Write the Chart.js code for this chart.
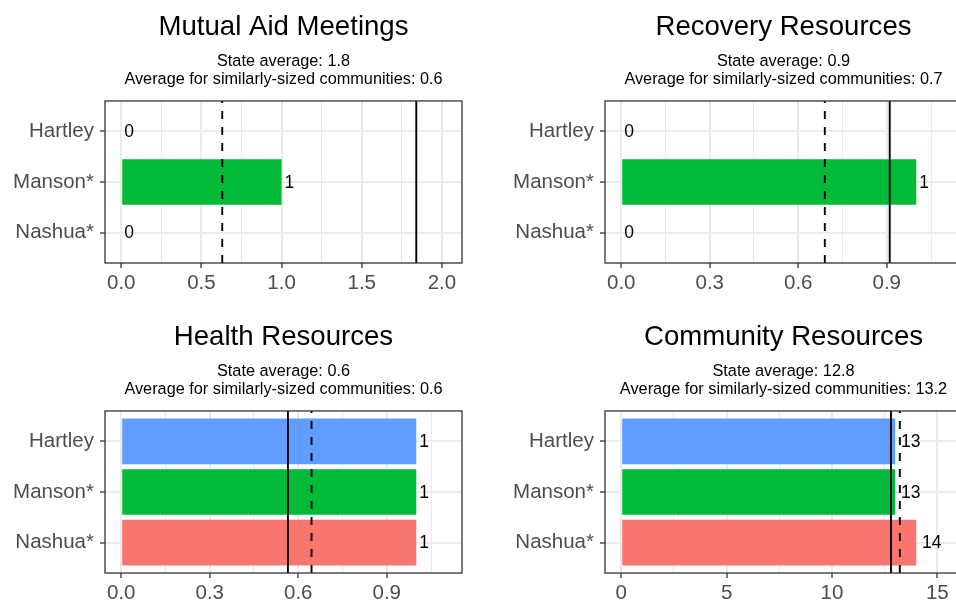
<!DOCTYPE html>
<html>
<head>
<meta charset="utf-8">
<script src="https://cdn.jsdelivr.net/npm/chart.js@4.4.1/dist/chart.umd.min.js"></script>
<style>
html, body { margin: 0; padding: 0; background: #ffffff; }
body { width: 956px; height: 604px; overflow: hidden; position: relative; }
.panel { position: absolute; width: 500px; height: 302px; }
.panel canvas { display: block; }
</style>
</head>
<body>
<div class="panel" style="left:0px;top:0px"><canvas id="c0" width="500" height="302"></canvas></div>
<div class="panel" style="left:500px;top:0px"><canvas id="c1" width="500" height="302"></canvas></div>
<div class="panel" style="left:0px;top:310px"><canvas id="c2" width="500" height="302"></canvas></div>
<div class="panel" style="left:500px;top:310px"><canvas id="c3" width="500" height="302"></canvas></div>
<script>
// ---- data ----
const communities = ['Hartley', 'Manson*', 'Nashua*'];
const barColors = ['#619CFF', '#00BA38', '#F8766D'];
const panelTitles = ['Mutual Aid Meetings', 'Recovery Resources', 'Health Resources', 'Community Resources'];

const mutualAidMeetings = [0, 1, 0];
const recoveryResources = [0, 1, 0];
const healthResources = [1, 1, 1];
const communityResources = [13, 13, 14];

const stateAverages = [1.84, 0.91, 0.565, 12.8];
const similarAverages = [0.63, 0.69, 0.645, 13.22];
const stateAverageLabels = ['1.8', '0.9', '0.6', '12.8'];
const similarAverageLabels = ['0.6', '0.7', '0.6', '13.2'];

const mutualTicks = [0, 0.5, 1, 1.5, 2];
const mutualTickLabels = ['0.0', '0.5', '1.0', '1.5', '2.0'];
const fractionTicks = [0, 0.3, 0.6, 0.9];
const fractionTickLabels = ['0.0', '0.3', '0.6', '0.9'];
const countTicks = [0, 5, 10, 15];
const countTickLabels = ['0', '5', '10', '15'];

// ---- styling ----
const FONT = "'Liberation Sans', Arial, sans-serif";
const GRID = '#EBEBEB';
const DARK = '#333333';

function makePanel(canvasId, idx, values, ticks, tickLabels) {
  const stateAvg = stateAverages[idx];
  const simAvg = similarAverages[idx];
  const top = 1.1 * Math.max(...values, stateAvg, simAvg);
  const xMin = -0.05 * top;
  const xMax = 1.05 * top;
  const step = ticks[1] - ticks[0];

  const panelPlugin = {
    id: 'panelExtras' + idx,
    afterDatasetsDraw(chart) {
      const ctx = chart.ctx;
      const area = chart.chartArea;
      const xs = chart.scales.x;
      // reference lines
      const drawV = (val, dashed) => {
        const px = xs.getPixelForValue(val);
        ctx.save();
        ctx.strokeStyle = '#000000';
        ctx.lineWidth = 1.9;
        ctx.setLineDash(dashed ? [8, 8] : []);
        ctx.beginPath();
        ctx.moveTo(px, area.bottom);
        ctx.lineTo(px, area.top);
        ctx.stroke();
        ctx.restore();
      };
      drawV(simAvg, true);
      drawV(stateAvg, false);
      // value labels
      const meta = chart.getDatasetMeta(0);
      ctx.save();
      ctx.font = '17.5px ' + FONT;
      ctx.fillStyle = '#000000';
      ctx.textBaseline = 'middle';
      ctx.textAlign = 'left';
      meta.data.forEach((bar, i) => {
        const txt = String(values[i]);
        const w = ctx.measureText(txt).width;
        const px = xs.getPixelForValue(values[i]);
        ctx.fillText(txt, px + 0.3 * w, bar.y + 1);
      });
      ctx.restore();
      // panel border
      ctx.save();
      ctx.strokeStyle = DARK;
      ctx.lineWidth = 1.3;
      ctx.strokeRect(area.left, area.top, area.right - area.left, area.bottom - area.top);
      ctx.restore();
    }
  };

  return new Chart(document.getElementById(canvasId), {
    type: 'bar',
    data: {
      datasets: [{
        data: values.map((v, i) => ({ x: v, y: i + 1 })),
        backgroundColor: barColors,
        borderWidth: 0,
        barPercentage: 0.9,
        categoryPercentage: 1.0
      }]
    },
    options: {
      indexAxis: 'y',
      responsive: false,
      animation: false,
      layout: { padding: { left: 0, right: 38, top: 0, bottom: 0 } },
      plugins: {
        legend: { display: false },
        tooltip: { enabled: false },
        title: {
          display: true,
          text: panelTitles[idx],
          color: '#000000',
          fullSize: false,
          font: { family: FONT, size: 27.6, weight: 'normal', lineHeight: 1 },
          padding: { top: 13.3, bottom: 10.3 }
        },
        subtitle: {
          display: true,
          text: ['State average: ' + stateAverageLabels[idx],
                 'Average for similarly-sized communities: ' + similarAverageLabels[idx]],
          color: '#000000',
          fullSize: false,
          font: { family: FONT, size: 16.3, weight: 'normal', lineHeight: 1.14 },
          padding: { top: 0.8, bottom: 11.8 }
        }
      },
      scales: {
        x: {
          type: 'linear',
          min: xMin,
          max: xMax,
          offset: false,
          afterBuildTicks(scale) {
            const list = [];
            ticks.forEach((t, i) => {
              list.push({ value: t, label: tickLabels[i], minor: false });
              const m = t + step / 2;
              if (m <= xMax) list.push({ value: m, label: '', minor: true });
            });
            scale.ticks = list;
          },
          afterFit(scale) { scale.height = 39; },
          ticks: {
            autoSkip: false,
            maxRotation: 0,
            padding: 3,
            color: '#4D4D4D',
            font: { family: FONT, size: 20.5 },
            callback: (value, index, tks) => tks[index].label
          },
          grid: {
            offset: false,
            color: GRID,
            lineWidth: (c) => (c.tick && c.tick.minor ? 1 : 2),
            tickLength: 5,
            tickColor: (c) => (c.tick && c.tick.minor ? 'rgba(0,0,0,0)' : DARK),
            tickWidth: 1.3
          },
          border: { display: false }
        },
        y: {
          type: 'linear',
          min: 0.4,
          max: 3.6,
          reverse: true,
          offset: false,
          afterBuildTicks(scale) {
            scale.ticks = communities.map((c, i) => ({ value: i + 1 }));
          },
          afterFit(scale) { scale.width = 105; },
          ticks: {
            autoSkip: false,
            padding: 6,
            color: '#4D4D4D',
            font: { family: FONT, size: 20.5 },
            callback: (value) => communities[Math.round(value) - 1]
          },
          grid: {
            offset: false,
            color: GRID,
            lineWidth: 2,
            tickLength: 5,
            tickColor: DARK,
            tickWidth: 1.3
          },
          border: { display: false }
        }
      }
    },
    plugins: [panelPlugin]
  });
}

makePanel('c0', 0, mutualAidMeetings, mutualTicks, mutualTickLabels);
makePanel('c1', 1, recoveryResources, fractionTicks, fractionTickLabels);
makePanel('c2', 2, healthResources, fractionTicks, fractionTickLabels);
makePanel('c3', 3, communityResources, countTicks, countTickLabels);
</script>
</body>
</html>
